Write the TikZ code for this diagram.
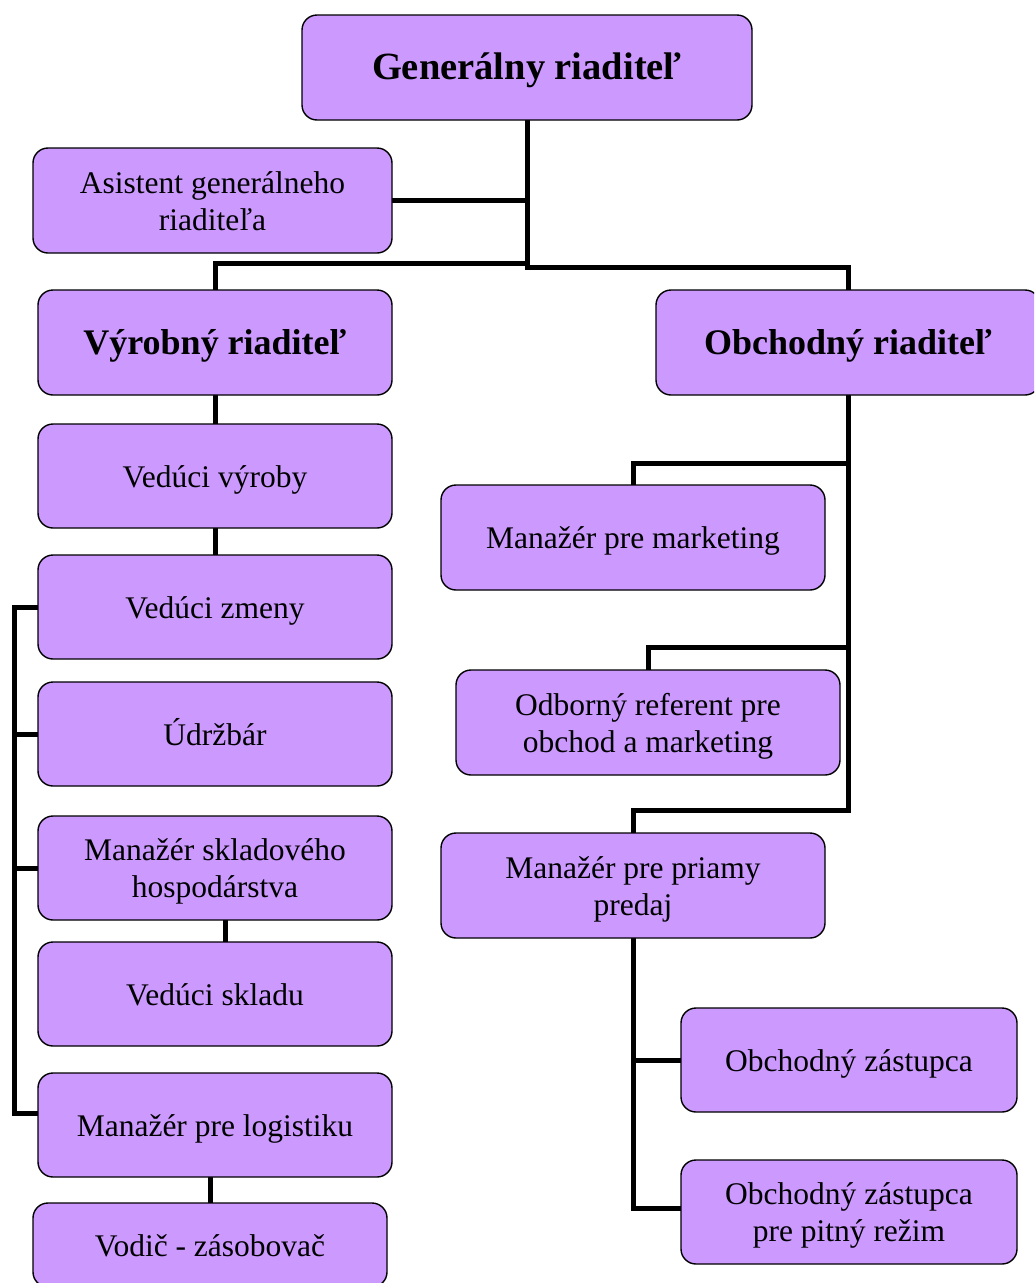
\documentclass[tikz,border=0pt]{standalone}
\usepackage{fontspec}
\setmainfont{Liberation Serif}
\usetikzlibrary{backgrounds}
\definecolor{boxpurple}{RGB}{204,153,255}
\newcommand{\boxtext}[1]{\raisebox{-4pt}[\height][\depth]{\begin{tabular}{@{}c@{}}#1\end{tabular}}}
\tikzset{
  orgbox/.style={draw=black, line width=1.4pt, fill=boxpurple, rounded corners=15pt,
    align=center, inner sep=0pt, font=\fontsize{31.5}{37}\selectfont},
  headbox/.style={orgbox, font=\fontsize{36}{40}\selectfont\bfseries},
  conn/.style={draw=black, line width=5pt, line cap=rect, line join=miter}
}
\begin{document}
\begin{tikzpicture}[x=1pt, y=-1pt]
\useasboundingbox (0,0) rectangle (1034,1283);
\clip (0,0) rectangle (1034,1283);
% top
\node[headbox, minimum width=450pt, minimum height=105pt, font=\fontsize{38.5}{42}\selectfont\bfseries] (gr) at (527,67.5) {\boxtext{Generálny riaditeľ}};
\node[orgbox, minimum width=359pt, minimum height=105pt] (asis) at (212.5,200.5) {\boxtext{Asistent generálneho\\riaditeľa}};
\node[headbox, minimum width=354pt, minimum height=105pt] (vyr) at (215,342.5) {\boxtext{Výrobný riaditeľ}};
\node[headbox, minimum width=384pt, minimum height=105pt] (obch) at (848,342.5) {\boxtext{Obchodný riaditeľ}};
% left column
\node[orgbox, minimum width=354pt, minimum height=104pt] (vv) at (215,476) {\boxtext{Vedúci výroby}};
\node[orgbox, minimum width=354pt, minimum height=104pt] (vz) at (215,607) {\boxtext{Vedúci zmeny}};
\node[orgbox, minimum width=354pt, minimum height=104pt] (udr) at (215,734) {\boxtext{Údržbár}};
\node[orgbox, minimum width=354pt, minimum height=104pt] (msh) at (215,868) {\boxtext{Manažér skladového\\hospodárstva}};
\node[orgbox, minimum width=354pt, minimum height=104pt] (vsk) at (215,994) {\boxtext{Vedúci skladu}};
\node[orgbox, minimum width=354pt, minimum height=104pt] (mpl) at (215,1125) {\boxtext{Manažér pre logistiku}};
\node[orgbox, minimum width=354pt, minimum height=84pt] (vod) at (210,1245) {\boxtext{Vodič - zásobovač}};
% right column
\node[orgbox, minimum width=384pt, minimum height=105pt] (mpm) at (633,537.5) {\boxtext{Manažér pre marketing}};
\node[orgbox, minimum width=384pt, minimum height=105pt] (odb) at (648,722.5) {\boxtext{Odborný referent pre\\obchod a marketing}};
\node[orgbox, minimum width=384pt, minimum height=105pt] (mpp) at (633,885.5) {\boxtext{Manažér pre priamy\\predaj}};
\node[orgbox, minimum width=336pt, minimum height=104pt] (oz) at (849,1060) {\boxtext{Obchodný zástupca}};
\node[orgbox, minimum width=336pt, minimum height=104pt] (ozp) at (849,1212) {\boxtext{Obchodný zástupca\\pre pitný režim}};
% junction coordinates
\coordinate (jL) at (527,263);
\coordinate (jR) at (527,267);
\coordinate (bx) at (14,0);
\coordinate (mplc) at ([yshift=12pt]mpl.west);
\coordinate (r1) at (848,463);
\coordinate (r2) at (848,647);
\coordinate (r3) at (848,810);
\begin{scope}[on background layer]
\draw[conn] (gr.south) -- (jR);
\draw[conn] (asis.east) -- (asis.east -| gr.south);
\draw[conn] (jL) -| (vyr.north);
\draw[conn] (jR) -| (obch.north);
\draw[conn] (vyr) -- (vv);
\draw[conn] (vv) -- (vz);
\draw[conn] (vz.west) -- (vz.west -| bx) -- (bx |- mplc) -- (mplc);
\draw[conn] (udr.west) -- (udr.west -| bx);
\draw[conn] (msh.west) -- (msh.west -| bx);
\draw[conn] ([xshift=10pt]msh.south) -- ([xshift=10pt]vsk.north);
\draw[conn] (mpl.south -| vod.north) -- (vod.north);
\draw[conn] (obch.south) -- (r3);
\draw[conn] (r1) -| (mpm.north);
\draw[conn] (r2) -| (odb.north);
\draw[conn] (r3) -| (mpp.north);
\draw[conn] (mpp.south) |- (oz.west);
\draw[conn] (mpp.south) |- ([yshift=4pt]ozp.west);
\end{scope}
\end{tikzpicture}
\end{document}
